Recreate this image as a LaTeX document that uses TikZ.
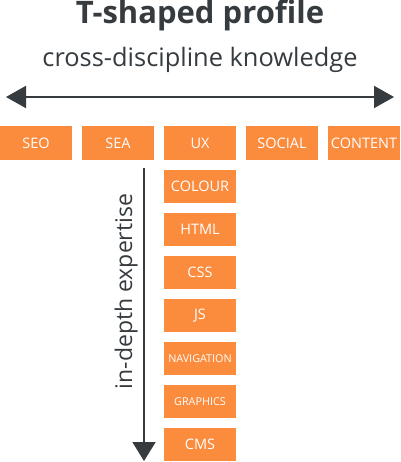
\documentclass[tikz,border=0pt]{standalone}
\usepackage{fontspec}
\setmainfont{Open Sans}
\usetikzlibrary{arrows.meta}
\definecolor{tor}{HTML}{FB8B3D}
\definecolor{tdark}{HTML}{353B3F}
\tikzset{
  skill/.style={fill=tor, text=white, minimum width=72pt, minimum height=33.5pt, inner sep=0pt, font=\fontsize{14.5}{14.5}\selectfont},
  small/.style={font=\fontsize{10.8}{10.8}\selectfont},
  downarrow/.style={draw=tdark, line width=2pt, -{Triangle[length=19pt,width=23pt]}},
  both/.style={draw=tdark, line width=2pt, {Triangle[length=20pt,width=22pt]}-{Triangle[length=20pt,width=22pt]}},
}
\begin{document}
\begin{tikzpicture}[x=1pt,y=-1pt]
\useasboundingbox (0,0) rectangle (400,462);
\node[anchor=base, text=tdark, font=\bfseries\fontsize{31}{31}\selectfont] (title) at (200,24) {T-shaped profile};
\node[anchor=base, text=tdark, font=\fontsize{25.4}{25.4}\selectfont] (sub) at (200,66.5) {cross-discipline knowledge};
\coordinate (hl) at (6,97);
\coordinate (hr) at (394,97);
\draw[both] (hl) -- (hr);
\node[skill] (seo) at (36,143) {SEO};
\node[skill] (sea) at (118,143) {SEA};
\node[skill] (ux) at (200,143) {UX};
\node[skill] (social) at (282,143) {SOCIAL};
\node[skill] (content) at (364,143) {CONTENT};
\node[skill] (colour) at (200,186.5) {COLOUR};
\node[skill] (html) at (200,229.5) {HTML};
\node[skill] (css) at (200,272.5) {CSS};
\node[skill] (js) at (200,315.5) {JS};
\node[skill, small] (nav) at (200,358.5) {NAVIGATION};
\node[skill, small] (gfx) at (200,401.5) {GRAPHICS};
\node[skill] (cms) at (200,444.5) {CMS};
\coordinate (vt) at (144,168);
\coordinate (vb) at (144,461);
\draw[downarrow] (vt) -- (vb);
\node[anchor=base, rotate=90, text=tdark, font=\fontsize{23}{23}\selectfont] (depth) at (132,291.5) {in-depth expertise};
\end{tikzpicture}
\end{document}
